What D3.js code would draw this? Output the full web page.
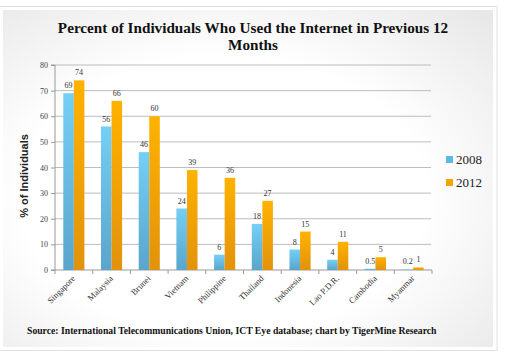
<!DOCTYPE html>
<html><head><meta charset="utf-8">
<script src="https://cdn.jsdelivr.net/npm/d3@7"></script>
<style>body{margin:0;background:#fff;} svg{display:block;}</style>
</head><body>
<script>
const categories = ["Singapore","Malaysia","Brunei","Vietnam","Philippine","Thailand","Indonesia","Lao P.D.R.","Cambodia","Myanmar"];
const series = ["2008","2012"];
const values2008 = [69,56,46,24,6,18,8,4,0.5,0.2];
const values2012 = [74,66,60,39,36,27,15,11,5,1];
const yTicks = [0,10,20,30,40,50,60,70,80];
const titleLines = ["Percent of Individuals Who Used the Internet in Previous 12","Months"];
const yLabel = "% of Individuals";
const sourceText = "Source: International Telecommunications Union, ICT Eye database; chart by TigerMine Research";

const W = 505, H = 360;
const svg = d3.select("body").append("svg").attr("width", W).attr("height", H);
const defs = svg.append("defs");
const bg = defs.append("radialGradient").attr("id","bg").attr("cx","45%").attr("cy","55%").attr("r","75%");
bg.append("stop").attr("offset","55%").attr("stop-color","#ffffff");
bg.append("stop").attr("offset","100%").attr("stop-color","#e8e8e8");
const gb = defs.append("linearGradient").attr("id","gBlue").attr("x1",0).attr("y1",0).attr("x2",0).attr("y2",1);
gb.append("stop").attr("offset","0%").attr("stop-color","#74cff6");
gb.append("stop").attr("offset","100%").attr("stop-color","#5aa5cb");
const go = defs.append("linearGradient").attr("id","gOrange").attr("x1",0).attr("y1",0).attr("x2",0).attr("y2",1);
go.append("stop").attr("offset","0%").attr("stop-color","#ffb200");
go.append("stop").attr("offset","100%").attr("stop-color","#e2920c");

// frames
svg.append("rect").attr("x",-1).attr("y",6.5).attr("width",498).attr("height",344).attr("fill","#fff").attr("stroke","#e0e0e0");
svg.append("rect").attr("x",3).attr("y",10).attr("width",490).attr("height",337).attr("fill","url(#bg)");

const serif = "'Liberation Serif','DejaVu Serif',serif";
// title
svg.append("g").selectAll("text").data(titleLines).join("text")
  .attr("x", 253).attr("y",(d,i)=>33+i*17)
  .attr("text-anchor","middle").attr("font-family",serif).attr("font-weight","bold")
  .attr("font-size",15.2).attr("fill","#111").text(d=>d);

const x0 = d3.scaleBand().domain(categories).range([55,432]).paddingInner(0.44).paddingOuter(0.22);
const x1 = d3.scaleBand().domain(series).range([0,x0.bandwidth()]);
const y = d3.scaleLinear().domain([0,80]).range([270,65]);

// gridlines
svg.append("g").selectAll("line").data(yTicks.filter(d=>d>0)).join("line")
  .attr("x1",55).attr("x2",431).attr("y1",d=>y(d)).attr("y2",d=>y(d))
  .attr("stroke","#bdbdbd").attr("stroke-width",1);

// y axis
const yAxis = svg.append("g").attr("transform","translate(55,0)")
  .call(d3.axisLeft(y).tickValues(yTicks).tickSize(4).tickPadding(3));
yAxis.attr("font-family",serif);
yAxis.select(".domain").attr("stroke","#999").attr("d","M-4,"+y(80)+"H0V"+y(0)+"H-4");
yAxis.selectAll(".tick line").attr("stroke","#999");
yAxis.selectAll("text").attr("font-family",serif).attr("font-size",8).attr("fill","#444");

// x axis
const xAxis = svg.append("g").attr("transform","translate(0,270)")
  .call(d3.axisBottom(x0).tickSize(0).tickFormat(""));
xAxis.select(".domain").attr("stroke","#999").attr("d","M55,0H432");
svg.append("g").selectAll("line").data(d3.range(categories.length+1)).join("line")
  .attr("x1",i=>55+i*x0.step()).attr("x2",i=>55+i*x0.step())
  .attr("y1",270).attr("y2",274).attr("stroke","#999");

// x labels
svg.append("g").selectAll("text").data(categories).join("text")
  .attr("transform",d=>`translate(${x0(d)+x0.bandwidth()/2+2},279) rotate(-45)`)
  .attr("text-anchor","end").attr("font-family",serif).attr("font-size",8.7).attr("fill","#333")
  .text(d=>d);

// bars
const rows = categories.map((c,i)=>({c, vals:[{s:"2008",v:values2008[i]},{s:"2012",v:values2012[i]}]}));
const grp = svg.append("g").selectAll("g").data(rows).join("g").attr("transform",d=>`translate(${x0(d.c)},0)`);
grp.selectAll("rect").data(d=>d.vals).join("rect")
  .attr("x",d=>x1(d.s)).attr("width",x1.bandwidth())
  .attr("y",d=>y(d.v)).attr("height",d=>y(0)-y(d.v))
  .attr("fill",d=>d.s==="2008"?"url(#gBlue)":"url(#gOrange)");
grp.selectAll("text").data(d=>d.vals).join("text")
  .attr("x",d=>x1(d.s)+x1.bandwidth()/2).attr("y",d=>y(d.v)-5)
  .attr("text-anchor","middle").attr("font-family",serif).attr("font-size",8).attr("fill","#333")
  .text(d=>d.v);

// y label
svg.append("text").attr("transform","translate(28,176) rotate(-90)")
  .attr("text-anchor","middle").attr("font-family","'Liberation Sans',Arial,sans-serif")
  .attr("font-weight","bold").attr("font-size",11).attr("fill","#222").text(yLabel);

// legend
const leg = svg.append("g").selectAll("g").data(series).join("g")
  .attr("transform",(d,i)=>`translate(446,${157+i*23})`);
leg.append("rect").attr("width",7).attr("height",7).attr("y",-1)
  .attr("fill",(d,i)=>i===0?"#5cbbe6":"#f4a300");
leg.append("text").attr("x",10).attr("y",6.5).attr("font-family",serif).attr("font-size",13).attr("fill","#222").text(d=>d);

// source
svg.append("text").attr("x",27).attr("y",334).attr("font-family",serif).attr("font-weight","bold")
  .attr("font-size",9.7).attr("fill","#111").text(sourceText);
</script>
</body></html>
